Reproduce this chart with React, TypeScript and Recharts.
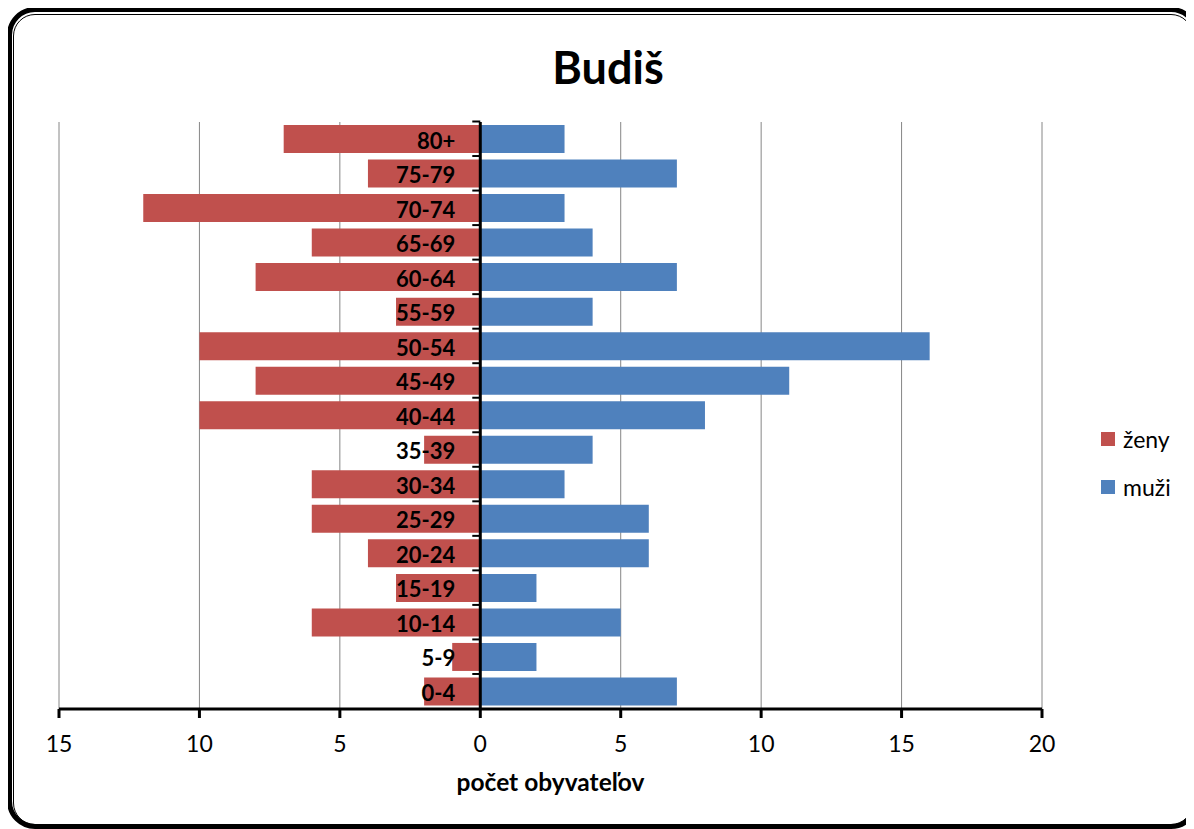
import { BarChart, Bar, XAxis, YAxis, CartesianGrid, ReferenceLine, LabelList } from "recharts";

const ages = ["80+", "75-79", "70-74", "65-69", "60-64", "55-59", "50-54", "45-49", "40-44", "35-39", "30-34", "25-29", "20-24", "15-19", "10-14", "5-9", "0-4"];
const zeny = [7, 4, 12, 6, 8, 3, 10, 8, 10, 2, 6, 6, 4, 3, 6, 1, 2];
const muzi = [3, 7, 3, 4, 7, 4, 16, 11, 8, 4, 3, 6, 6, 2, 5, 2, 7];
const xTicks = [-15, -10, -5, 0, 5, 10, 15, 20];

const data = ages.map((age, i) => ({ age, zeny: -zeny[i], muzi: muzi[i] }));

const FONT = "Lato, 'Open Sans', sans-serif";
const RED = "#C0504D";
const BLUE = "#4F81BD";

// label sits left of the zero line, over the red bar; also draws the small axis tick
const AgeLabel = (props: any) => {
  const vb = props.viewBox || {};
  const x = props.x ?? vb.x;
  const y = props.y ?? vb.y;
  const h = props.height ?? vb.height;
  return (
    <g>
      <line x1={x - 8} x2={x} y1={y - 3.5} y2={y - 3.5} stroke="#000" strokeWidth={2} />
      <text
        x={x - 25}
        y={y + h / 2 + 1}
        textAnchor="end"
        dominantBaseline="central"
        fontFamily={FONT}
        fontWeight={700}
        fontSize={22}
        fill="#000"
      >
        {props.value}
      </text>
    </g>
  );
};

export default function App() {
  return (
    <div style={{ position: "relative", width: 1186, height: 821, overflow: "hidden", fontFamily: FONT }}>
      <div
        style={{
          position: "absolute", left: -1, top: -1, width: 1192, height: 822,
          border: "5px solid #000", borderRadius: 28, boxSizing: "border-box",
        }}
      />
      <div
        style={{
          position: "absolute", left: 5, top: 6, width: 1180, height: 811,
          border: "1.5px solid #000", borderRadius: 22, boxSizing: "border-box",
        }}
      />
      <div
        style={{
          position: "absolute", left: 0, width: 1200, top: 33, textAlign: "center",
          fontSize: 45, fontWeight: 700, lineHeight: "52px", color: "#000",
        }}
      >
        Budiš
      </div>

      <div style={{ position: "absolute", left: 0, top: 0 }}>
        <BarChart
          width={1100}
          height={800}
          data={data}
          layout="vertical"
          stackOffset="sign"
          margin={{ top: 114, right: 66, bottom: 39, left: 51 }}
        >
          <CartesianGrid horizontal={false} stroke="#868686" strokeWidth={1} />
          <XAxis
            type="number"
            domain={[-15, 20]}
            ticks={xTicks}
            tickFormatter={(v: number) => String(Math.abs(v))}
            height={60}
            axisLine={{ stroke: "#000", strokeWidth: 3 }}
            tickLine={{ stroke: "#000", strokeWidth: 3 }}
            tickSize={9}
            tickMargin={18}
            tick={{ fill: "#000", fontSize: 23, fontFamily: FONT }}
            label={{
              value: "počet obyvateľov",
              position: "bottom",
              offset: 5,
              fill: "#000",
              fontSize: 24.5,
              fontWeight: 700,
              fontFamily: FONT,
            }}
          />
          <YAxis type="category" dataKey="age" hide />
          <Bar dataKey="zeny" stackId="a" fill={RED} barSize={28} isAnimationActive={false} />
          <Bar dataKey="muzi" stackId="a" fill={BLUE} barSize={28} isAnimationActive={false}>
            <LabelList dataKey="age" content={AgeLabel} />
          </Bar>
          <ReferenceLine x={0} stroke="#000" strokeWidth={3} />
        </BarChart>
      </div>

      <div style={{ position: "absolute", left: 1093, top: 418, fontSize: 23, color: "#000" }}>
        <div style={{ display: "flex", alignItems: "center", height: 26 }}>
          <span style={{ width: 14, height: 14, background: RED, marginRight: 8 }} />
          ženy
        </div>
        <div style={{ display: "flex", alignItems: "center", height: 26, marginTop: 22 }}>
          <span style={{ width: 14, height: 14, background: BLUE, marginRight: 8 }} />
          muži
        </div>
      </div>
    </div>
  );
}
